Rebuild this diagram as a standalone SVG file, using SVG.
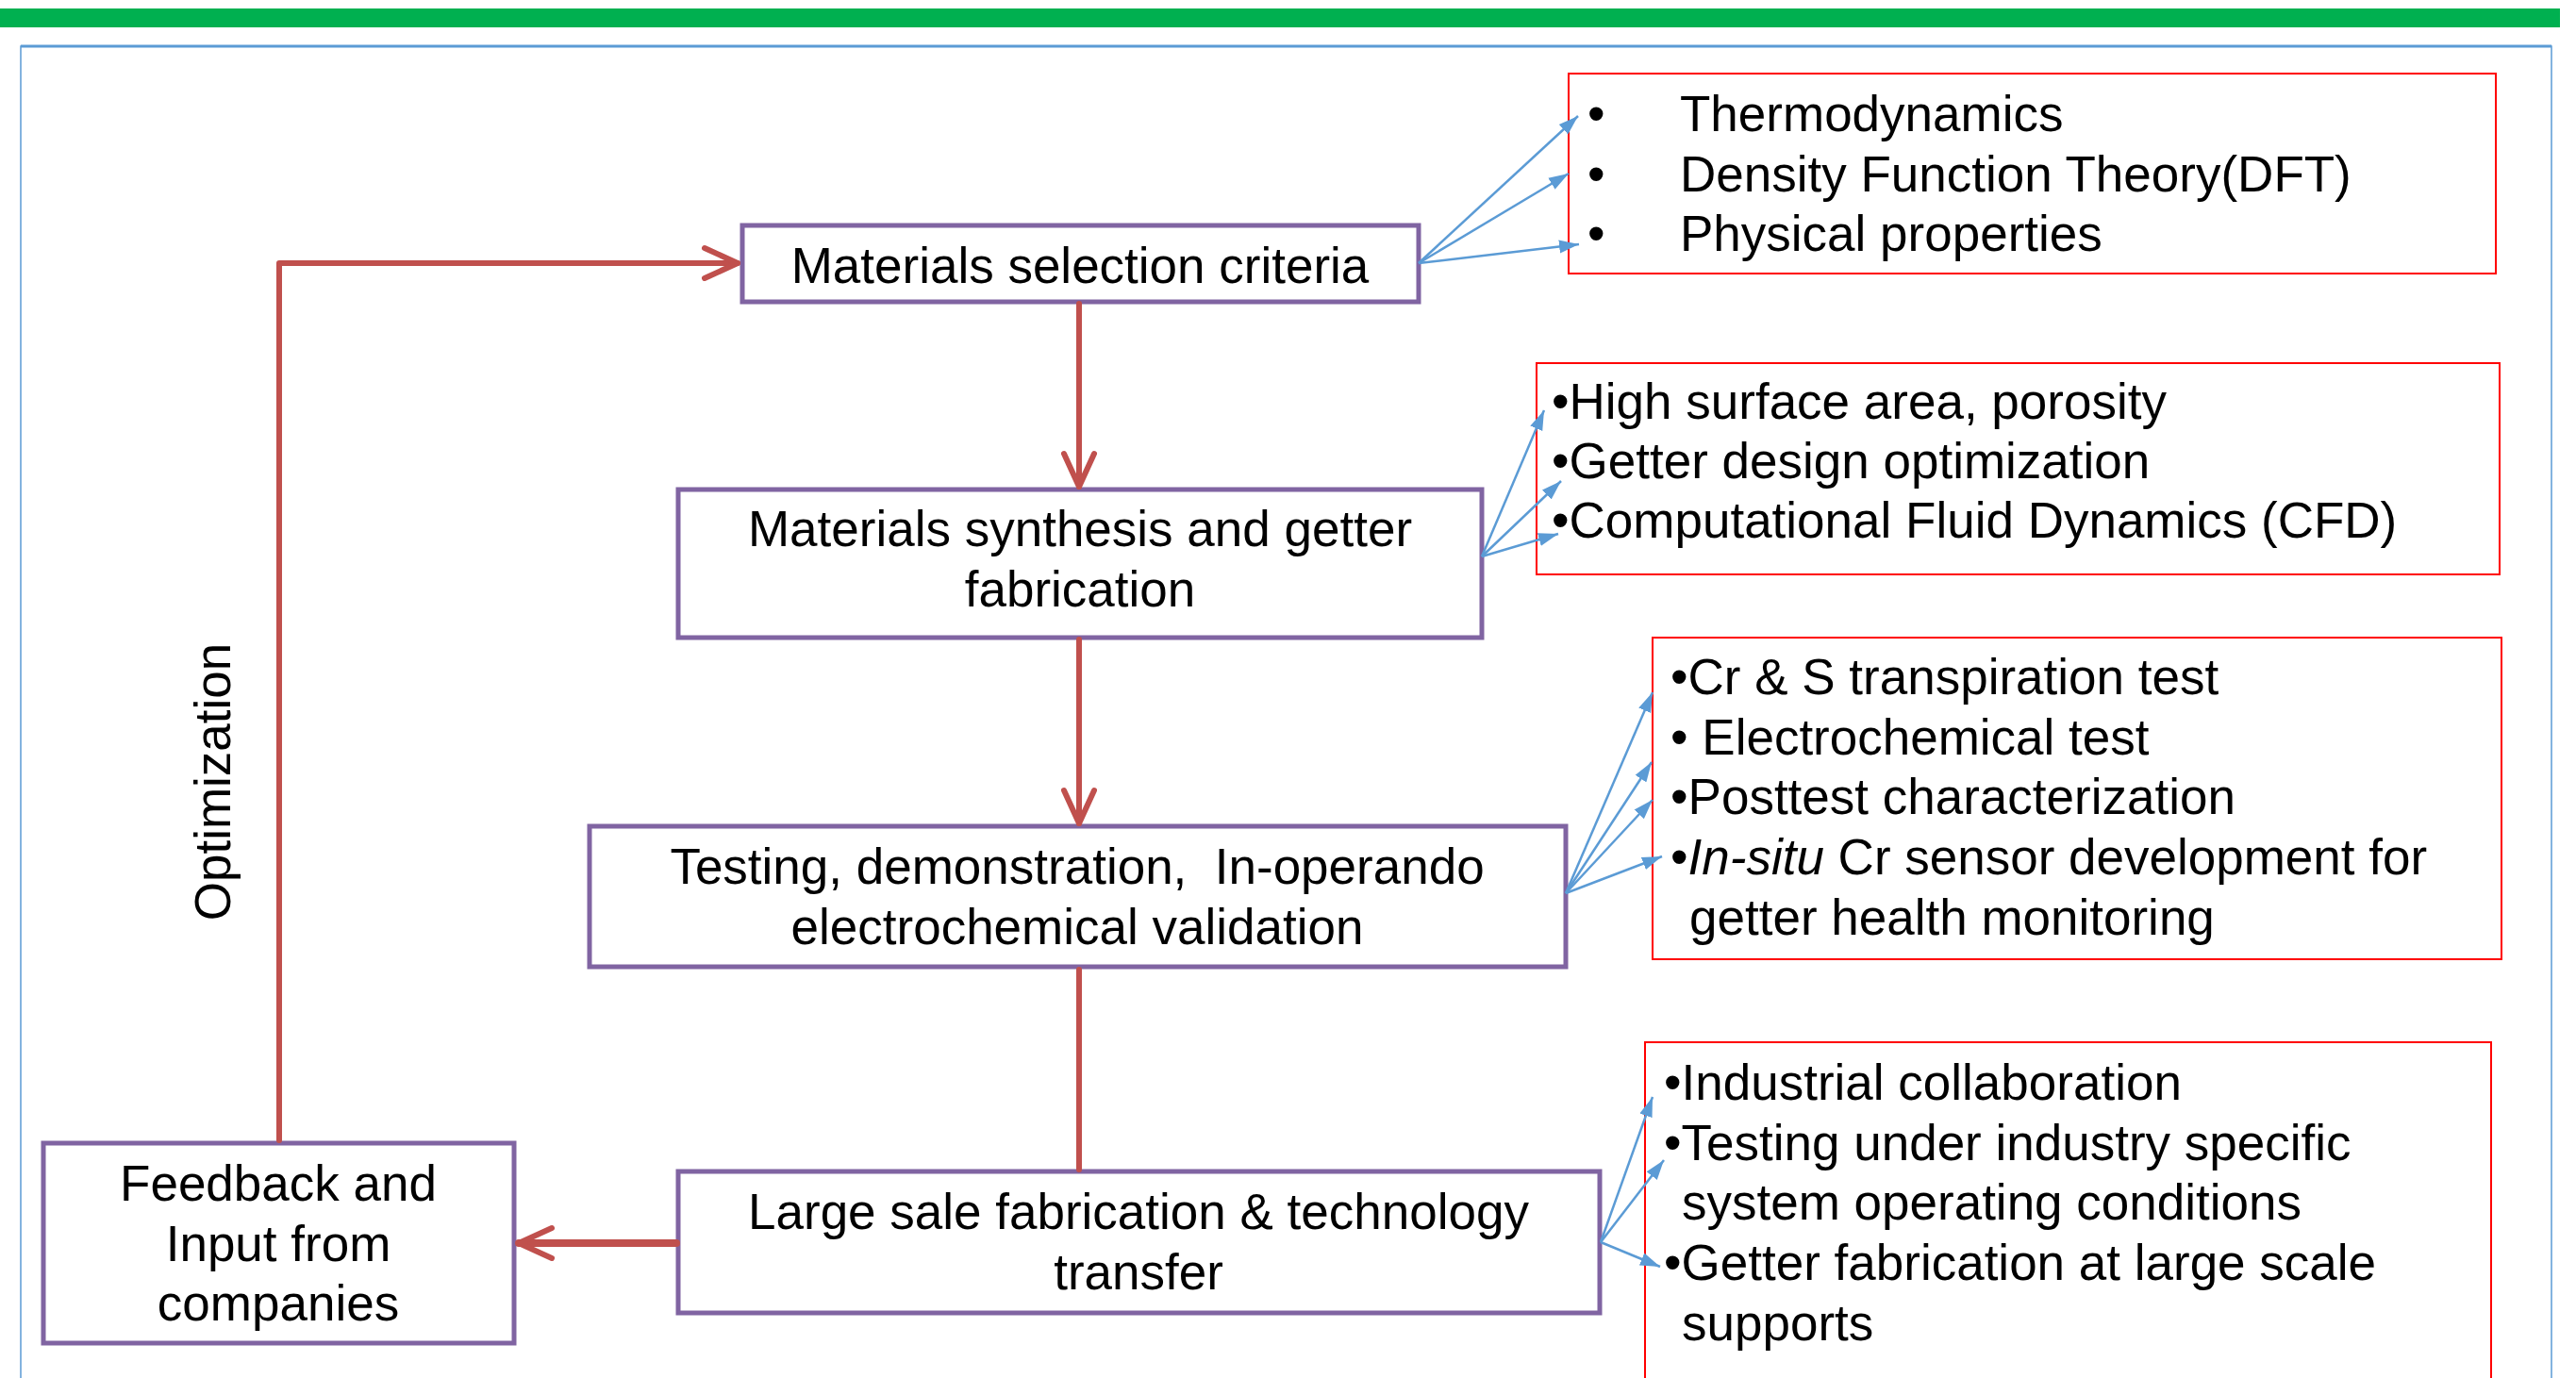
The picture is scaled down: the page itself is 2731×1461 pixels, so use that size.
<svg xmlns="http://www.w3.org/2000/svg" width="2731" height="1461" viewBox="0 0 2731 1461">
<style>
text{font-family:"Liberation Sans",Arial,sans-serif;font-size:53px;fill:#000}
.c{text-anchor:middle}
.node rect{fill:#fff;stroke:#8064A2;stroke-width:5}
.info rect{fill:#fff;stroke:#FF0000;stroke-width:2}
.red{fill:none;stroke:#C0504D;stroke-width:6;stroke-linecap:round;stroke-linejoin:round}
.blue{fill:none;stroke:#5B9BD5;stroke-width:2.5}
</style>
<defs>
<marker id="ra" markerUnits="userSpaceOnUse" markerWidth="46" markerHeight="42" viewBox="-5 -5 46 42" refX="35" refY="16" orient="auto">
<path d="M0,0 L35,16 L0,32" fill="none" stroke="#C0504D" stroke-width="6" stroke-linecap="round" stroke-linejoin="round"/>
</marker>
<marker id="ba" markerUnits="userSpaceOnUse" markerWidth="22" markerHeight="16" viewBox="0 0 22 16" refX="21" refY="8" orient="auto">
<path d="M0,1 L21,8 L0,15 z" fill="#5B9BD5"/>
</marker>
</defs>
<rect x="0" y="9" width="2714" height="20" fill="#00B050"/>
<rect x="22" y="49" width="2683" height="1430" fill="none" stroke="#5B9BD5" stroke-width="1.5"/>
<line x1="22" y1="49" x2="2705" y2="49" stroke="#5B9BD5" stroke-width="3"/>
<text transform="translate(244,829) rotate(-90)" class="c">Optimization</text>
<g id="n1" class="node"><rect x="787" y="239" width="717" height="81"/>
<text x="1145" y="300" class="c">Materials selection criteria</text></g>
<g id="n2" class="node"><rect x="719" y="519" width="852" height="157"/>
<text x="1145" y="579" class="c">Materials synthesis and getter</text>
<text x="1145" y="643" class="c">fabrication</text></g>
<g id="n3" class="node"><rect x="625" y="876" width="1035" height="149"/>
<text x="1142" y="937" class="c" style="white-space:pre">Testing, demonstration,  In-operando</text>
<text x="1142" y="1001" class="c">electrochemical validation</text></g>
<g id="n4" class="node"><rect x="719" y="1242" width="977" height="150"/>
<text x="1207" y="1303" class="c">Large sale fabrication &amp; technology</text>
<text x="1207" y="1367" class="c">transfer</text></g>
<g id="n5" class="node"><rect x="46" y="1212" width="499" height="212"/>
<text x="295" y="1273" class="c">Feedback and</text>
<text x="295" y="1337" class="c">Input from</text>
<text x="295" y="1400" class="c">companies</text></g>
<g id="i1" class="info"><rect x="1663" y="78" width="983" height="212"/>
<text x="1683" y="139">•</text><text x="1781" y="139">Thermodynamics</text>
<text x="1683" y="203">•</text><text x="1781" y="203">Density Function Theory(DFT)</text>
<text x="1683" y="266">•</text><text x="1781" y="266">Physical properties</text></g>
<g id="i2" class="info"><rect x="1629" y="385" width="1021" height="224"/>
<text x="1645" y="444">•High surface area, porosity</text>
<text x="1645" y="507">•Getter design optimization</text>
<text x="1645" y="570">•Computational Fluid Dynamics (CFD)</text></g>
<g id="i3" class="info"><rect x="1752" y="676" width="900" height="341"/>
<text x="1771" y="736">•Cr &amp; S transpiration test</text>
<text x="1771" y="800">• Electrochemical test</text>
<text x="1771" y="863">•Posttest characterization</text>
<text x="1771" y="927">•<tspan font-style="italic">In-situ</tspan> Cr sensor development for</text>
<text x="1791" y="991">getter health monitoring</text></g>
<g id="i4" class="info"><rect x="1744" y="1105" width="897" height="400"/>
<text x="1764" y="1166">•Industrial collaboration</text>
<text x="1764" y="1230">•Testing under industry specific</text>
<text x="1783" y="1293">system operating conditions</text>
<text x="1764" y="1357">•Getter fabrication at large scale</text>
<text x="1783" y="1421">supports</text></g>
<g id="connectors">
<path class="red" d="M1144,322 V516" marker-end="url(#ra)"/>
<path class="red" d="M1144,678 V873" marker-end="url(#ra)"/>
<path class="red" d="M1144,1028 V1240"/>
<path class="red" d="M717,1318 H550" style="stroke-width:8" marker-end="url(#ra)"/>
<path class="red" d="M296,1209 V279 H782" marker-end="url(#ra)"/>
<path class="blue" d="M1504,279 L1673,123" marker-end="url(#ba)"/>
<path class="blue" d="M1504,279 L1663,184" marker-end="url(#ba)"/>
<path class="blue" d="M1504,279 L1674,259" marker-end="url(#ba)"/>
<path class="blue" d="M1571,590 L1637,435" marker-end="url(#ba)"/>
<path class="blue" d="M1571,590 L1655,510" marker-end="url(#ba)"/>
<path class="blue" d="M1571,590 L1652,566" marker-end="url(#ba)"/>
<path class="blue" d="M1660,947 L1752,734" marker-end="url(#ba)"/>
<path class="blue" d="M1660,947 L1751,808" marker-end="url(#ba)"/>
<path class="blue" d="M1660,947 L1752,848" marker-end="url(#ba)"/>
<path class="blue" d="M1660,947 L1762,908" marker-end="url(#ba)"/>
<path class="blue" d="M1697,1317 L1752,1163" marker-end="url(#ba)"/>
<path class="blue" d="M1697,1317 L1764,1230" marker-end="url(#ba)"/>
<path class="blue" d="M1697,1317 L1760,1343" marker-end="url(#ba)"/>
</g>
</svg>
